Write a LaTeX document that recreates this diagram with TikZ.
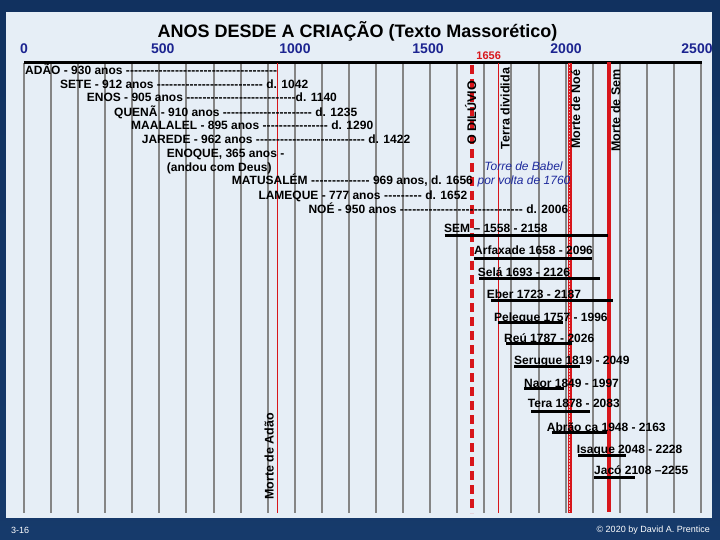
\documentclass[tikz,border=0pt]{standalone}
\usepackage{fontspec}
\setmainfont{Liberation Sans}
\definecolor{navy}{HTML}{163A6B}
\definecolor{navydark}{HTML}{0E2C58}
\definecolor{panel}{HTML}{E6EEF6}
\definecolor{axisblue}{HTML}{1C2490}
\definecolor{gline}{HTML}{858585}
\definecolor{rline}{HTML}{D8161B}
\definecolor{babel}{HTML}{1E2A9C}
\begin{document}
\begin{tikzpicture}[x=1pt,y=-1pt,
  rowtext/.style={anchor=base west, inner sep=0pt, font=\fontsize{12}{14}\selectfont\bfseries},
  axlabel/.style={anchor=base, inner sep=0pt, text=axisblue, font=\fontsize{14}{16}\selectfont\bfseries},
  vlabel/.style={anchor=base, inner sep=0pt, rotate=90, font=\fontsize{12.5}{14}\selectfont\bfseries},
  babeltext/.style={anchor=base, inner sep=0pt, text=babel, font=\fontsize{12}{14}\selectfont\itshape},
  gridline/.style={draw=gline, line width=2pt},
  lifebar/.style={draw=black, line width=3pt},
  foot/.style={inner sep=0pt, text=white, font=\fontsize{9}{10}\selectfont}]
% background
\fill[navy] (0,0) rectangle (720,540);
\shade[top color=navydark, bottom color=navy, opacity=0.6] (0,0) rectangle (720,540);
\fill[panel] (6,12) rectangle (712,518);
\useasboundingbox (0,0) rectangle (720,540);
% grid lines
\foreach \k in {0,...,25} {
  \draw[gridline] ({24+27.08*\k},63) -- ({24+27.08*\k},513);
}
% axis
\draw[black, line width=3pt] (24,63) -- (702,63);
% red event lines
\draw[rline, line width=1pt] (277,63) -- (277,513);
\draw[rline, line width=3.5pt, dash pattern=on 9pt off 5pt] (472,65) -- (472,513);
\draw[rline, line width=1.2pt] (498.5,63) -- (498.5,513);
\draw[rline, line width=4pt] (569.5,63) -- (569.5,513);
\draw[white!70!rline, line width=1.3pt, dash pattern=on 1.5pt off 1.5pt] (569.5,64) -- (569.5,512);
\draw[rline, line width=4pt] (609,62) -- (609,512);
% title
\node[anchor=base, inner sep=0pt, font=\fontsize{18}{21}\selectfont\bfseries] (title) at (357.5,37.4) {ANOS DESDE A CRIAÇÃO (Texto Massorético)};
% axis labels
\node[axlabel] (l0) at (24,54) {0};
\node[axlabel] (l500) at (162.7,54) {500};
\node[axlabel] (l1000) at (295,54) {1000};
\node[axlabel] (l1500) at (428,54) {1500};
\node[axlabel] (l2000) at (566,54) {2000};
\node[axlabel] (l2500) at (697,54) {2500};
\node[anchor=base, inner sep=0pt, text=rline, font=\fontsize{11}{12}\selectfont\bfseries] (l1656) at (488.7,60) {1656};
% vertical labels
\node[vlabel] (diluvio) at (476,113) {O DILÚVIO};
\node[vlabel] (terra) at (509.5,108.5) {Terra dividida};
\node[vlabel] (mnoe) at (580.2,109) {Morte de Noé};
\node[vlabel] (msem) at (620.2,110.5) {Morte de Sem};
\node[vlabel] (madao) at (273.5,456.5) {Morte de Adão};
% patriarch rows
\node[rowtext] (adao) at (25,74.5) {\hbox to 252pt{ADÃO - 930 anos \xleaders\hbox{-}\hfill}};
\node[rowtext] (sete) at (60,88.3) {\hbox to 248pt{SETE - 912 anos \xleaders\hbox{-}\hfill\ d. 1042}};
\node[rowtext] (enos) at (86.7,102) {\hbox to 250pt{ENOS - 905 anos \xleaders\hbox{-}\hfill d. 1140}};
\node[rowtext] (quena) at (114,116.3) {\hbox to 243pt{QUENÃ - 910 anos \xleaders\hbox{-}\hfill\ d. 1235}};
\node[rowtext] (maalalel) at (131,130) {\hbox to 242pt{MAALALEL - 895 anos \xleaders\hbox{-}\hfill\ d. 1290}};
\node[rowtext] (jarede) at (141.7,143.6) {\hbox to 268.3pt{JAREDE - 962 anos \xleaders\hbox{-}\hfill\ d. 1422}};
\node[rowtext] (enoque) at (166.7,157.6) {ENOQUE, 365 anos -};
\node[rowtext] (andou) at (166.7,172) {(andou com Deus)};
\node[rowtext] (matusalem) at (231.7,185) {\hbox to 241pt{MATUSALÉM \xleaders\hbox{-}\hfill\ 969 anos, d. 1656}};
\node[rowtext] (lameque) at (258.3,200) {\hbox to 208.7pt{LAMEQUE - 777 anos \xleaders\hbox{-}\hfill\ d. 1652}};
\node[rowtext] (noe) at (308.3,213.3) {\hbox to 259.7pt{NOÉ - 950 anos \xleaders\hbox{-}\hfill\ d. 2006}};
% Babel
\node[babeltext] (babel1) at (523.5,171) {Torre de Babel};
\node[babeltext] (babel2) at (524,184.3) {por volta de 1760};
% Sem and descendants
\node[rowtext] (sem) at (444,232.6) {SEM – 1558 - 2158};
\draw[lifebar] (444.5,235) -- (608,235);
\node[rowtext] (arfaxade) at (474,254.3) {Arfaxade 1658 - 2096};
\draw[lifebar] (474,258.3) -- (592,258.3);
\node[rowtext] (sela) at (477.7,276) {Selá 1693 - 2126};
\draw[lifebar] (479,278.5) -- (600,278.5);
\node[rowtext] (eber) at (486.7,298.3) {Eber 1723 - 2187};
\draw[lifebar] (490.7,300.5) -- (613,300.5);
\node[rowtext] (peleque) at (494,321) {Peleque 1757 - 1996};
\draw[lifebar] (498,322) -- (563,322);
\node[rowtext] (reu) at (504,342.3) {Reú 1787 - 2026};
\draw[lifebar] (506,343.5) -- (572,343.5);
\node[rowtext] (serugue) at (514,364.3) {Serugue 1819 - 2049};
\draw[lifebar] (514,366) -- (580,366);
\node[rowtext] (naor) at (524,387) {Naor 1849 - 1997};
\draw[lifebar] (524,388.5) -- (564,388.5);
\node[rowtext] (tera) at (527.7,407.6) {Tera 1878 - 2083};
\draw[lifebar] (531,411) -- (590,411);
\node[rowtext] (abrao) at (546.7,431) {Abrão ca 1948 - 2163};
\draw[lifebar] (551.7,432) -- (606.7,432);
\node[rowtext] (isaque) at (576.7,453.3) {Isaque 2048 - 2228};
\draw[lifebar] (578,455) -- (626,455);
\node[rowtext] (jaco) at (594,474.3) {Jacó 2108 –2255};
\draw[lifebar] (594,477.3) -- (635,477.3);
% footer
\node[foot, anchor=west] (page) at (11,530.5) {3-16};
\node[foot, anchor=east] (copy) at (710,530) {© 2020 by David A. Prentice};
\end{tikzpicture}
\end{document}
